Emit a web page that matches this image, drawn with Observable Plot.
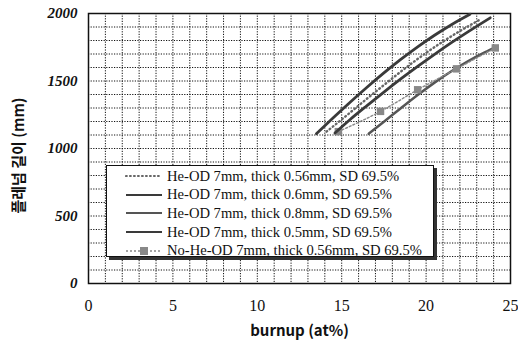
<!DOCTYPE html>
<html>
<head>
<meta charset="utf-8">
<script src="https://cdn.jsdelivr.net/npm/d3@7"></script>
<script src="https://cdn.jsdelivr.net/npm/@observablehq/plot@0.6"></script>
<style>
  html, body { margin: 0; padding: 0; background: #fff; }
  #wrap { position: relative; width: 518px; height: 349px; }
  #legend {
    position: absolute; left: 106px; top: 165px; width: 326px; height: 90px;
    border: 1.5px solid #111; background: #fff; box-shadow: 3px 3px 0 #333;
    font-family: "Liberation Serif", "DejaVu Serif", serif; font-size: 14.6px; color: #111;
  }
  .row { position: absolute; left: 0; height: 18px; display: flex; align-items: center; white-space: nowrap; }
  .row svg { margin-left: 18px; margin-right: 4px; }
</style>
</head>
<body>
<div id="wrap"><div id="legend"></div></div>
<script>
// ---- data ----
const xTicks = [0, 5, 10, 15, 20, 25];
const yTicks = [0, 500, 1000, 1500, 2000];
const xLabel = "burnup (at%)";
const yLabel = "플레넘 길이 (mm)";

const seriesNames = [
  "He-OD 7mm, thick 0.56mm, SD 69.5%",
  "He-OD 7mm, thick 0.6mm, SD 69.5%",
  "He-OD 7mm, thick 0.8mm, SD 69.5%",
  "He-OD 7mm, thick 0.5mm, SD 69.5%",
  "No-He-OD 7mm, thick 0.56mm, SD 69.5%"
];

// 0.56 mm (dotted)
const burnup056 = [14.1, 15, 16, 17, 18, 19, 20, 21, 22, 23.2];
const plenum056 = [1125, 1215, 1318, 1420, 1520, 1617, 1708, 1792, 1870, 1955];
// 0.6 mm (upper solid)
const burnup06 = [13.5, 14.5, 15.5, 16.5, 17.5, 18.5, 19.5, 20.5, 21.5, 22.6];
const plenum06 = [1110, 1228, 1343, 1454, 1560, 1660, 1753, 1839, 1917, 1994];
// 0.8 mm (lower solid)
const burnup08 = [16.6, 17.5, 18.5, 19.5, 20.5, 21.5, 22.5, 23.5, 24.1];
const plenum08 = [1110, 1198, 1298, 1396, 1488, 1572, 1648, 1714, 1750];
// 0.5 mm (second solid)
const burnup05 = [14.6, 15.5, 16.5, 17.5, 18.5, 19.5, 20.5, 21.5, 22.5, 23.8];
const plenum05 = [1115, 1215, 1318, 1418, 1515, 1608, 1698, 1784, 1866, 1968];
// No-He 0.56 mm (dashed with squares)
const burnupNoHe = [14.8, 17.3, 19.5, 21.8, 24.1];
const plenumNoHe = [1125, 1275, 1435, 1590, 1745];

// ---- build tables ----
const toRows = (xs, ys) => xs.map((x, i) => ({x, y: ys[i]}));
const d056 = toRows(burnup056, plenum056);
const d06 = toRows(burnup06, plenum06);
const d08 = toRows(burnup08, plenum08);
const d05 = toRows(burnup05, plenum05);
const dNoHe = toRows(burnupNoHe, plenumNoHe);

const styles = [
  {stroke: "#666", strokeWidth: 2.4, strokeDasharray: "0.8,3.2", strokeLinecap: "round"},
  {stroke: "#3a3a3a", strokeWidth: 2.8},
  {stroke: "#555", strokeWidth: 2.5},
  {stroke: "#3a3a3a", strokeWidth: 2.8},
  {stroke: "#888", strokeWidth: 1.4, strokeDasharray: "2,2"}
];

const serif = "Liberation Serif, DejaVu Serif, serif";
const sans = "Noto Sans CJK KR, DejaVu Sans, sans-serif";

const chart = Plot.plot({
  width: 518,
  height: 349,
  marginLeft: 88,
  marginRight: 8,
  marginTop: 13,
  marginBottom: 66,
  style: {fontFamily: serif, fontSize: "15px", background: "#fff", color: "#111"},
  x: {domain: [0, 25]},
  y: {domain: [0, 2000]},
  marks: [
    Plot.gridX(d3.range(0, 26, 1), {stroke: "#111", strokeOpacity: 1, strokeDasharray: "1.2,1.4", strokeWidth: 1}),
    Plot.gridY(d3.range(0, 2001, 100), {stroke: "#111", strokeOpacity: 1, strokeDasharray: "1.2,1.4", strokeWidth: 1}),
    Plot.frame({stroke: "#111", strokeWidth: 1.5}),
    Plot.line(d08, {x: "x", y: "y", curve: "monotone-x", ...styles[2]}),
    Plot.line(dNoHe, {x: "x", y: "y", curve: "monotone-x", ...styles[4]}),
    Plot.dot(dNoHe, {x: "x", y: "y", symbol: "square", r: 4.2, fill: "#888"}),
    Plot.line(d05, {x: "x", y: "y", curve: "monotone-x", ...styles[3]}),
    Plot.line(d06, {x: "x", y: "y", curve: "monotone-x", ...styles[1]}),
    Plot.line(d056, {x: "x", y: "y", curve: "monotone-x", ...styles[0]}),
    Plot.axisX(xTicks, {tickSize: 0, tickPadding: 16, fontSize: 16, fontFamily: serif, label: null}),
    Plot.axisY(yTicks, {tickSize: 0, tickPadding: 11, tickFormat: d => String(d), fontSize: 15, fontStyle: "italic", fontWeight: "bold", fontFamily: serif, label: null}),
    Plot.text([xLabel], {frameAnchor: "bottom", dy: 52, text: d => d, fontSize: 15, fontWeight: "bold", fontFamily: sans}),
    Plot.text([yLabel], {frameAnchor: "left", textAnchor: "middle", dx: -69, dy: 7, rotate: -90, text: d => d, fontSize: 15, fontWeight: "bold", fontFamily: sans})
  ]
});

const wrap = document.getElementById("wrap");
wrap.insertBefore(chart, wrap.firstChild);

// ---- legend (HTML overlay) ----
const legend = document.getElementById("legend");
seriesNames.forEach((name, i) => {
  const row = document.createElement("div");
  row.className = "row";
  row.style.top = (1 + i * 18.7) + "px";
  const s = styles[i];
  let svg = `<svg width="38" height="10"><line x1="1" y1="5" x2="37" y2="5" stroke="${s.stroke}" stroke-width="${Math.min(s.strokeWidth, 2.2)}" ${s.strokeDasharray ? `stroke-dasharray="${s.strokeDasharray}"` : ""} ${s.strokeLinecap ? `stroke-linecap="${s.strokeLinecap}"` : ""}/>`;
  if (i === 4) svg += `<rect x="15" y="1" width="8" height="8" fill="#888"/>`;
  svg += `</svg>`;
  row.innerHTML = svg + `<span>${name}</span>`;
  legend.appendChild(row);
});
</script>
</body>
</html>
